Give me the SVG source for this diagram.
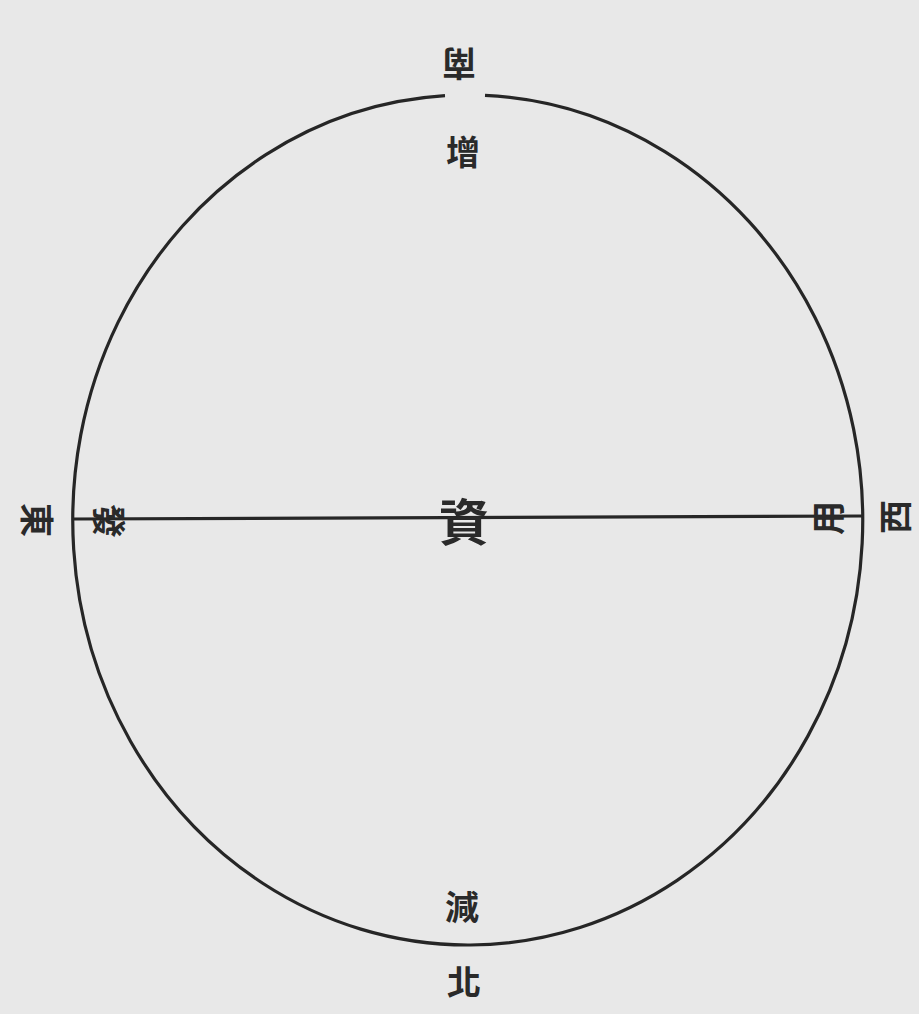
<svg xmlns="http://www.w3.org/2000/svg" width="919" height="1014" viewBox="0 0 919 1014">
<style>
.t{font-family:"Noto Sans CJK TC","Noto Sans CJK JP",sans-serif;fill:#2a2a2a;text-anchor:middle;dominant-baseline:central;font-weight:700}
.s{font-size:34px}
.b{font-size:50px}
.ln{fill:none;stroke:#262626;stroke-width:3.2}
</style>
<rect width="919" height="1014" fill="#e8e8e8"/>
<g id="connectors">
<path class="ln" d="M 485 95.4 A 395 425 0 1 1 445 95.7"/>
<line class="ln" x1="73" y1="519" x2="863" y2="516" stroke-width="2.6"/>
</g>
<g id="south"><text class="t s" transform="translate(459,65) rotate(180)">南</text></g>
<g id="increase"><text class="t s" x="463" y="150">增</text></g>
<g id="capital"><text class="t b" x="464" y="519">資</text></g>
<g id="east"><text class="t s" transform="translate(38,520) rotate(90)">東</text></g>
<g id="issue"><text class="t s" transform="translate(110,521) rotate(90)">發</text></g>
<g id="use"><text class="t s" transform="translate(826,518) rotate(-90)">用</text></g>
<g id="west"><text class="t s" transform="translate(893,517) rotate(-90)">西</text></g>
<g id="decrease"><text class="t s" x="462" y="905">減</text></g>
<g id="north"><text class="t s" x="464" y="980">北</text></g>
</svg>
